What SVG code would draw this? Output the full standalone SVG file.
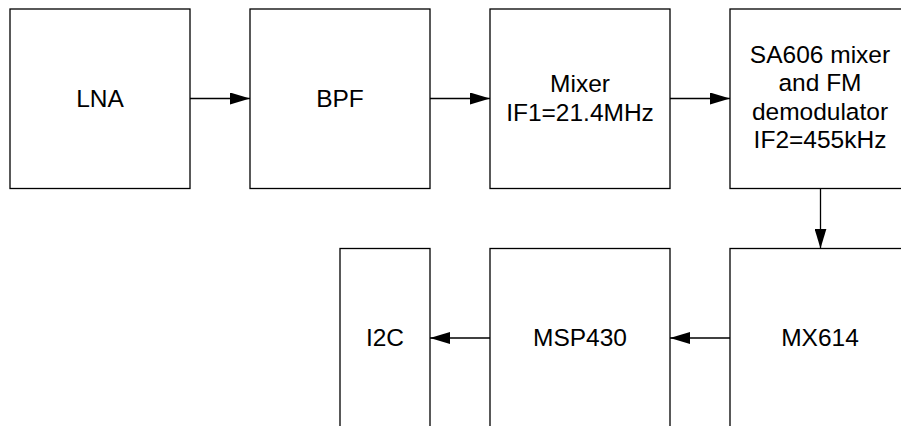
<svg xmlns="http://www.w3.org/2000/svg" width="901" height="426" viewBox="0 0 901 426">
<style>
.box{fill:#fff;stroke:#000;stroke-width:1.3}
.t{font-family:"Liberation Sans",Arial,sans-serif;font-size:24.5px;fill:#000;text-anchor:middle}
.c{stroke:#000;stroke-width:1.3;fill:none}
</style>
<defs>
<marker id="ah" markerWidth="20" markerHeight="12" refX="20" refY="6" orient="auto" markerUnits="userSpaceOnUse">
<path d="M0,0 L20,6 L0,12 Z" fill="#000"/>
</marker>
</defs>
<rect width="901" height="426" fill="#fff"/>
<g id="lna"><rect class="box" x="10" y="9" width="180" height="179.5"/><text class="t" x="100" y="107">LNA</text></g>
<g id="bpf"><rect class="box" x="250" y="9" width="180" height="179.5"/><text class="t" x="340" y="107">BPF</text></g>
<g id="mixer"><rect class="box" x="490" y="9" width="180" height="179.5"/><text class="t" x="580" y="91.5">Mixer<tspan x="580" dy="29.5">IF1=21.4MHz</tspan></text></g>
<g id="sa606"><rect class="box" x="730" y="9" width="180" height="179.5"/><text class="t" x="820" y="62.5">SA606 mixer<tspan x="820" dy="28.6">and FM</tspan><tspan x="820" dy="28.6">demodulator</tspan><tspan x="820" dy="28.6">IF2=455kHz</tspan></text></g>
<g id="i2c"><rect class="box" x="340" y="248.5" width="90" height="190"/><text class="t" x="385" y="346">I2C</text></g>
<g id="msp430"><rect class="box" x="490" y="248.5" width="180" height="190"/><text class="t" x="580" y="346">MSP430</text></g>
<g id="mx614"><rect class="box" x="730" y="248.5" width="180" height="190"/><text class="t" x="820" y="346">MX614</text></g>
<g id="connectors">
<line class="c" x1="190" y1="98.5" x2="250" y2="98.5" marker-end="url(#ah)"/>
<line class="c" x1="430" y1="98.5" x2="490" y2="98.5" marker-end="url(#ah)"/>
<line class="c" x1="670" y1="98.5" x2="730" y2="98.5" marker-end="url(#ah)"/>
<line class="c" x1="820.5" y1="188.5" x2="820.5" y2="248.5" marker-end="url(#ah)"/>
<line class="c" x1="730" y1="338" x2="670" y2="338" marker-end="url(#ah)"/>
<line class="c" x1="490" y1="338" x2="430" y2="338" marker-end="url(#ah)"/>
</g>
</svg>
